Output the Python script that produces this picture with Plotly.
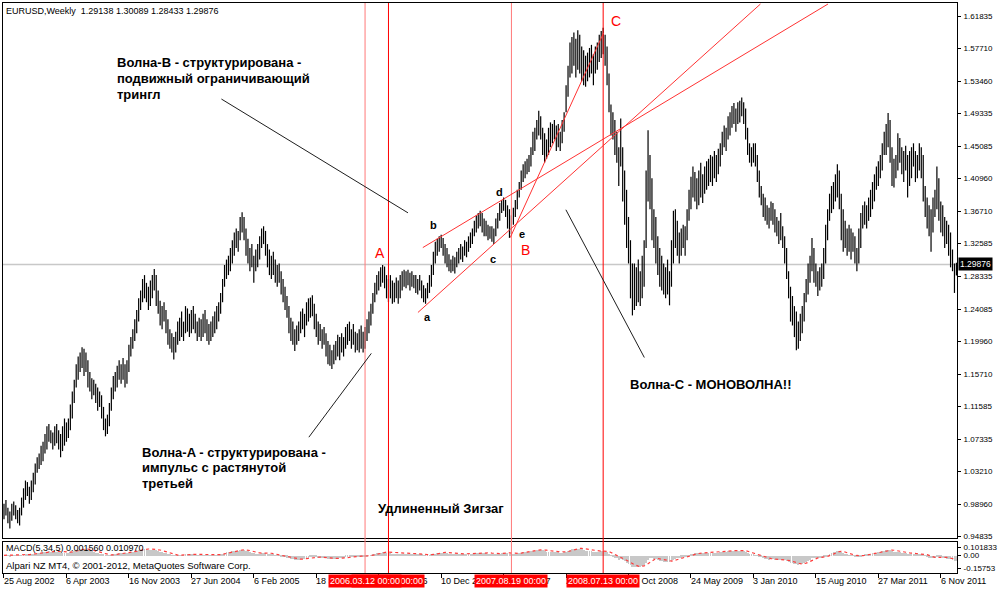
import plotly.graph_objects as go
import pandas as pd

# ---------------- data ----------------
header_text = "EURUSD,Weekly  1.29138 1.30089 1.28433 1.29876"
first_week = "2002-08-25"
last_close = 1.29876

# weekly bar lows / highs (bar 0 = week of 25 Aug 2002)
lows = [
    0.970, 0.975, 0.965, 0.958, 0.968, 0.975, 0.970, 0.965, 0.962, 0.975,
    0.985, 0.995, 1.000, 0.990, 0.995, 1.005, 1.015, 1.030, 1.035, 1.040,
    1.045, 1.055, 1.060, 1.070, 1.068, 1.060, 1.065, 1.068, 1.060, 1.050, 1.058, 1.065, 1.070,
    1.075, 1.085, 1.100, 1.120, 1.140, 1.150, 1.160, 1.165, 1.155, 1.160, 1.140,
    1.135, 1.125, 1.130, 1.120, 1.110, 1.115, 1.100, 1.085, 1.077, 1.080,
    1.090, 1.110, 1.125, 1.135, 1.140, 1.150, 1.145, 1.150, 1.140, 1.145, 1.160, 1.180, 1.190, 1.200, 1.210,
    1.225, 1.240, 1.250, 1.255, 1.250, 1.240, 1.245, 1.255, 1.265, 1.245,
    1.235, 1.220, 1.215, 1.225, 1.210, 1.195, 1.190, 1.185, 1.176, 1.185,
    1.195, 1.200, 1.205, 1.200, 1.210, 1.212, 1.205, 1.210, 1.215, 1.210, 1.200,
    1.205, 1.200, 1.205, 1.210, 1.200, 1.195, 1.200, 1.205, 1.210, 1.215, 1.225,
    1.235, 1.250, 1.270, 1.280, 1.285, 1.290, 1.300, 1.310, 1.320, 1.315, 1.330, 1.340,
    1.330, 1.310, 1.300, 1.290, 1.295, 1.275, 1.290, 1.295, 1.305, 1.320, 1.325, 1.310,
    1.295, 1.285, 1.280, 1.285, 1.275, 1.270, 1.275, 1.260, 1.250, 1.240, 1.230, 1.210, 1.200, 1.195, 1.187, 1.195,
    1.200, 1.210, 1.215, 1.205, 1.220, 1.225, 1.230, 1.232, 1.215,
    1.205, 1.195, 1.200, 1.190, 1.195, 1.180, 1.170, 1.168, 1.164, 1.170,
    1.175, 1.180, 1.175, 1.185, 1.180, 1.190, 1.195, 1.200, 1.190, 1.195, 1.185, 1.188, 1.185, 1.190, 1.185, 1.190,
    1.200, 1.210, 1.220, 1.235, 1.250, 1.260, 1.265, 1.270, 1.275, 1.268,
    1.255, 1.250, 1.255, 1.248, 1.250, 1.255, 1.248, 1.255, 1.265, 1.270, 1.268,
    1.272, 1.265, 1.270, 1.268, 1.262, 1.260, 1.265, 1.255, 1.250, 1.248, 1.255,
    1.262, 1.270, 1.285, 1.300, 1.310, 1.315, 1.320,
    1.310, 1.300, 1.295, 1.290, 1.288, 1.290, 1.287,
    1.295, 1.300, 1.305, 1.302, 1.310, 1.308, 1.315, 1.320, 1.325, 1.335, 1.340, 1.345, 1.348,
    1.340, 1.335, 1.335, 1.330, 1.332, 1.328, 1.325,
    1.335, 1.345, 1.355, 1.365, 1.368, 1.360, 1.345, 1.333, 1.338,
    1.350, 1.360, 1.370, 1.385, 1.395, 1.405, 1.410, 1.415, 1.418, 1.425, 1.440, 1.445, 1.460, 1.465,
    1.460, 1.440, 1.430, 1.435, 1.440, 1.450, 1.455, 1.460, 1.445, 1.450, 1.445, 1.455, 1.470,
    1.495, 1.515, 1.540, 1.545, 1.555, 1.540, 1.550, 1.545, 1.535, 1.530,
    1.528, 1.535, 1.540, 1.545, 1.530, 1.545, 1.550, 1.560, 1.565, 1.570,
    1.555, 1.530, 1.495, 1.465, 1.460, 1.440, 1.430, 1.400, 1.425, 1.380, 1.350, 1.320, 1.300, 1.255, 1.233,
    1.240, 1.245, 1.250, 1.245, 1.255, 1.270, 1.320, 1.380,
    1.370, 1.330, 1.320, 1.300, 1.285, 1.270, 1.265, 1.260, 1.255, 1.260, 1.246,
    1.270, 1.300, 1.320, 1.310, 1.300, 1.310, 1.320, 1.310, 1.330, 1.355, 1.370,
    1.385, 1.380, 1.370, 1.375, 1.385, 1.378, 1.390, 1.395,
    1.400, 1.405, 1.400, 1.410, 1.405, 1.415, 1.425, 1.440, 1.450, 1.445, 1.460, 1.465, 1.475, 1.480, 1.470, 1.480, 1.482, 1.490,
    1.480, 1.460, 1.440, 1.430, 1.425, 1.430, 1.425, 1.405, 1.385, 1.375,
    1.360, 1.355, 1.350, 1.345, 1.355, 1.350, 1.340, 1.335, 1.325, 1.330,
    1.320, 1.300, 1.280, 1.255, 1.225, 1.220, 1.205, 1.188, 1.190,
    1.200, 1.210, 1.225, 1.250, 1.260, 1.275, 1.290, 1.275, 1.270, 1.258,
    1.265, 1.270, 1.280, 1.300, 1.330, 1.355, 1.365, 1.370, 1.380, 1.385,
    1.370, 1.330, 1.315, 1.320, 1.310, 1.315, 1.305, 1.315, 1.300, 1.290, 1.300,
    1.320, 1.345, 1.350, 1.345, 1.355, 1.360, 1.370, 1.380, 1.395, 1.400, 1.410, 1.420, 1.440, 1.440, 1.450,
    1.430, 1.400, 1.398, 1.410, 1.420, 1.430, 1.415, 1.405, 1.420, 1.385, 1.400, 1.410, 1.425, 1.405, 1.410, 1.420, 1.410,
    1.380, 1.360, 1.345, 1.335, 1.315, 1.340, 1.360, 1.370, 1.355,
    1.340, 1.335, 1.320, 1.325, 1.310, 1.295, 1.290, 1.262, 1.28433,
]
highs = [
    0.990, 0.995, 0.985, 0.980, 0.990, 0.993, 0.988, 0.982, 0.985, 0.998,
    1.010, 1.020, 1.018, 1.012, 1.020, 1.030, 1.042, 1.050, 1.055, 1.065,
    1.070, 1.080, 1.090, 1.093, 1.085, 1.082, 1.090, 1.093, 1.085, 1.080, 1.090, 1.100, 1.095,
    1.100, 1.118, 1.135, 1.150, 1.170, 1.180, 1.185, 1.192, 1.190, 1.185, 1.175,
    1.160, 1.152, 1.150, 1.145, 1.140, 1.135, 1.130, 1.115, 1.100, 1.105,
    1.120, 1.140, 1.155, 1.160, 1.168, 1.175, 1.170, 1.178, 1.170, 1.175, 1.195, 1.205, 1.215, 1.228, 1.240,
    1.255, 1.265, 1.280, 1.285, 1.275, 1.270, 1.278, 1.285, 1.293, 1.285,
    1.265, 1.252, 1.245, 1.250, 1.240, 1.228, 1.215, 1.210, 1.205, 1.212,
    1.225, 1.230, 1.238, 1.225, 1.245, 1.242, 1.235, 1.240, 1.245, 1.235, 1.225,
    1.230, 1.228, 1.235, 1.240, 1.228, 1.222, 1.225, 1.232, 1.238, 1.245, 1.250,
    1.262, 1.280, 1.298, 1.305, 1.310, 1.320, 1.330, 1.340, 1.345, 1.342, 1.360, 1.366,
    1.360, 1.345, 1.332, 1.320, 1.325, 1.310, 1.318, 1.325, 1.335, 1.345, 1.348, 1.342,
    1.325, 1.318, 1.310, 1.315, 1.305, 1.298, 1.300, 1.290, 1.280, 1.270, 1.258, 1.245, 1.230, 1.225, 1.215, 1.220,
    1.225, 1.238, 1.242, 1.235, 1.250, 1.255, 1.256, 1.259, 1.248,
    1.235, 1.225, 1.222, 1.215, 1.218, 1.210, 1.200, 1.195, 1.188, 1.195,
    1.200, 1.208, 1.205, 1.210, 1.205, 1.218, 1.222, 1.225, 1.215, 1.222, 1.212, 1.210, 1.215, 1.220, 1.212, 1.218,
    1.228, 1.238, 1.248, 1.262, 1.275, 1.285, 1.290, 1.295, 1.298, 1.296,
    1.285, 1.280, 1.285, 1.278, 1.275, 1.282, 1.278, 1.285, 1.290, 1.292, 1.290,
    1.292, 1.288, 1.290, 1.285, 1.285, 1.280, 1.285, 1.278, 1.272, 1.268, 1.275,
    1.285, 1.298, 1.315, 1.328, 1.332, 1.335, 1.337,
    1.333, 1.325, 1.320, 1.312, 1.305, 1.310, 1.308,
    1.315, 1.320, 1.325, 1.322, 1.330, 1.328, 1.335, 1.340, 1.345, 1.355, 1.362, 1.365, 1.368,
    1.365, 1.358, 1.355, 1.350, 1.348, 1.348, 1.345,
    1.358, 1.365, 1.378, 1.382, 1.385, 1.382, 1.375, 1.370, 1.362,
    1.372, 1.382, 1.395, 1.405, 1.420, 1.428, 1.432, 1.435, 1.440, 1.450, 1.470, 1.475, 1.485, 1.497,
    1.490, 1.475, 1.468, 1.460, 1.475, 1.482, 1.480, 1.485, 1.478, 1.480, 1.470, 1.485, 1.495,
    1.530, 1.555, 1.585, 1.592, 1.598, 1.590, 1.601, 1.595, 1.580, 1.575,
    1.568, 1.572, 1.578, 1.582, 1.570, 1.580, 1.585, 1.595, 1.600, 1.604,
    1.595, 1.580, 1.545, 1.505, 1.495, 1.485, 1.470, 1.450, 1.487, 1.450, 1.420, 1.395, 1.360, 1.330, 1.300,
    1.300, 1.295, 1.305, 1.290, 1.310, 1.330, 1.420, 1.472,
    1.440, 1.410, 1.370, 1.360, 1.335, 1.320, 1.310, 1.300, 1.295, 1.305, 1.290,
    1.330, 1.368, 1.370, 1.355, 1.340, 1.345, 1.350, 1.348, 1.370, 1.395, 1.412,
    1.425, 1.418, 1.410, 1.420, 1.430, 1.415, 1.425, 1.432,
    1.435, 1.440, 1.438, 1.445, 1.440, 1.448, 1.455, 1.470, 1.478, 1.475, 1.490, 1.495, 1.503, 1.507, 1.500, 1.508, 1.510, 1.514,
    1.508, 1.500, 1.475, 1.455, 1.450, 1.455, 1.455, 1.440, 1.420, 1.400,
    1.390, 1.385, 1.375, 1.372, 1.380, 1.378, 1.370, 1.360, 1.355, 1.365,
    1.348, 1.335, 1.320, 1.290, 1.270, 1.258, 1.245, 1.238, 1.225,
    1.235, 1.245, 1.262, 1.280, 1.300, 1.310, 1.333, 1.320, 1.300, 1.290,
    1.295, 1.300, 1.320, 1.350, 1.370, 1.390, 1.400, 1.405, 1.415, 1.428,
    1.420, 1.390, 1.370, 1.355, 1.345, 1.350, 1.345, 1.340, 1.335, 1.320, 1.345,
    1.365, 1.375, 1.380, 1.375, 1.385, 1.395, 1.405, 1.415, 1.425, 1.432, 1.440, 1.455, 1.470, 1.480, 1.494,
    1.485, 1.450, 1.435, 1.440, 1.468, 1.462, 1.450, 1.445, 1.452, 1.440, 1.445, 1.450, 1.455, 1.445, 1.440, 1.455, 1.450,
    1.440, 1.400, 1.385, 1.375, 1.370, 1.385, 1.395, 1.425, 1.410,
    1.380, 1.375, 1.360, 1.355, 1.350, 1.340, 1.318, 1.300, 1.30089,
]

price_ticks = [1.61835, 1.57710, 1.53460, 1.49335, 1.45085, 1.40960, 1.36710, 1.32585,
               1.28335, 1.24085, 1.19960, 1.15710, 1.11585, 1.07335, 1.03210, 0.98960, 0.94835]
macd_ticks = [0.101833, 0.0, -0.15753]
macd_tick_text = ["0.101833", "0.00", "-0.15753"]
date_tick_bars = [0, 32, 64, 96, 128, 160, 192, 224, 256, 288, 320, 352, 384, 416, 448, 480]
date_tick_text = ["25 Aug 2002", "6 Apr 2003", "16 Nov 2003", "27 Jun 2004", "6 Feb 2005",
                  "18 Sep 2005", "30 Apr 2006", "10 Dec 2006", "22 Jul 2007", "2 Mar 2008",
                  "12 Oct 2008", "24 May 2009", "3 Jan 2010", "15 Aug 2010", "27 Mar 2011", "6 Nov 2011"]
# vertical marker lines: (bar, label, colour)
vlines = [(197, "2006.06.04 00:00", "rgb(255,0,0)"),
          (185, "2006.03.12 00:00", "rgb(255,120,120)"),
          (260, "2007.08.19 00:00", "rgb(255,120,120)"),
          (307, "2008.07.13 00:00", "rgb(255,0,0)")]
# red trend lines (bar, price) -> (bar, price)
trend_lines = [((214.6, 1.3205), (422.2, 1.6347)),
               ((212.1, 1.2368), (387.6, 1.6347)),
               ((259.4, 1.3335), (307.2, 1.5974))]
# black pointer lines
pointer_lines = [((111.4, 1.5121), (207.0, 1.3653)),
                 ((156.2, 1.0759), (188.2, 1.1840)),
                 ((287.9, 1.3693), (328.1, 1.1787))]

# ---------------- derived ----------------
n = len(lows)
idx = list(range(n))
weeks = pd.date_range(first_week, periods=n, freq="7D").strftime("%Y.%m.%d").tolist()
mid = pd.Series([(h + l) / 2 for h, l in zip(highs, lows)])
# MT4 MACD(5,34,5) indicator computed from the bars above
macd = (mid.ewm(span=5, adjust=False).mean() - mid.ewm(span=34, adjust=False).mean())
signal = macd.rolling(5, min_periods=1).mean()

# vertical bar segments (one trace, gaps between bars)
seg_x, seg_y = [], []
for i, (l, h) in enumerate(zip(lows, highs)):
    seg_x += [i, i, None]
    seg_y += [l, h, None]

W, H = 1000, 590
X0, X1, Y0, Y1 = 2, 963, 2, 573


def px(x):
    return (x - X0) / (X1 - X0)


def py(y):
    return (Y1 - y) / (Y1 - Y0)


FONT = "Liberation Sans, Arial, sans-serif"

fig = go.Figure()
fig.add_trace(go.Scatter(x=seg_x, y=seg_y, mode="lines", line=dict(color="black", width=1.2),
                         xaxis="x", yaxis="y", showlegend=False, hoverinfo="skip"))
fig.add_trace(go.Bar(x=idx, y=macd.tolist(), width=0.45,
                     marker=dict(color="rgb(200,200,200)", line=dict(width=0)), customdata=weeks,
                     xaxis="x2", yaxis="y2", showlegend=False))
fig.add_trace(go.Scatter(x=idx, y=signal.tolist(), mode="lines",
                         line=dict(color="rgb(255,60,60)", width=1.2, dash="dot"),
                         xaxis="x2", yaxis="y2", showlegend=False))

ppb = 1.966
xr0 = -1 / ppb
xr1 = xr0 + (X1 - X0) / ppb

axis_common = dict(showgrid=False, zeroline=False, showline=True, linecolor="black",
                   linewidth=1, mirror=True)
fig.update_layout(
    width=W, height=H, margin=dict(l=X0, r=W - X1, t=Y0, b=H - Y1),
    paper_bgcolor="white", plot_bgcolor="white", barmode="overlay", bargap=0,
    font=dict(family=FONT, size=8, color="black"), showlegend=False,
    xaxis=dict(domain=[0, 1], range=[xr0, xr1], anchor="y", showticklabels=False, ticks="",
               **axis_common),
    yaxis=dict(domain=[py(538), 1], range=[0.94579, 1.63599], side="right", anchor="x",
               tickvals=price_ticks, ticktext=[f"{v:.5f}" for v in price_ticks],
               ticks="outside", ticklen=3, tickcolor="black", ticklabelstandoff=1,
               tickfont=dict(size=8, family=FONT, color="black"), **axis_common),
    xaxis2=dict(domain=[0, 1], range=[xr0, xr1], matches="x", anchor="y2", showticklabels=False,
                ticks="outside", tickvals=date_tick_bars, ticklen=4, tickcolor="black",
                **axis_common),
    yaxis2=dict(domain=[0, py(541.5)], range=[-0.219, 0.170], side="right", anchor="x2",
                tickvals=macd_ticks, ticktext=macd_tick_text, ticks="outside", ticklen=3,
                tickcolor="black", ticklabelstandoff=1,
                tickfont=dict(size=8, family=FONT, color="black"), **axis_common),
)

shapes = []
shapes.append(dict(type="line", xref="paper", yref="y", x0=0, x1=1, y0=last_close, y1=last_close,
                   line=dict(color="rgb(200,200,200)", width=1.5), layer="below"))
for b, _, col in vlines:
    shapes.append(dict(type="line", xref="x", yref="paper", x0=b, x1=b, y0=0, y1=1,
                       line=dict(color=col, width=1)))
for (xa, ya), (xb, yb) in trend_lines:
    shapes.append(dict(type="line", xref="x", yref="y", x0=xa, y0=ya, x1=xb, y1=yb,
                       line=dict(color="rgb(255,50,50)", width=1)))
for (xa, ya), (xb, yb) in pointer_lines:
    shapes.append(dict(type="line", xref="x", yref="y", x0=xa, y0=ya, x1=xb, y1=yb,
                       line=dict(color="rgb(30,30,30)", width=1)))
fig.update_layout(shapes=shapes)

ann = []


def text(xp, yp, s, size=9, color="black", anchor="left", bold=False, **kw):
    ann.append(dict(xref="paper", yref="paper", x=px(xp), y=py(yp), text=(f"<b>{s}</b>" if bold else s),
                    showarrow=False, xanchor=anchor, yanchor="middle",
                    font=dict(size=size, color=color, family=FONT), **kw))


text(3, 10, header_text, size=9)
text(115, 62, "Волна-B - структурирована -", size=13, bold=True)
text(115, 78, "подвижный ограничивающий", size=13, bold=True)
text(115, 94, "трингл", size=13, bold=True)
text(140, 452, "Волна-A - структурирована -", size=13, bold=True)
text(140, 467, "импульс с растянутой", size=13, bold=True)
text(140, 483, "третьей", size=13, bold=True)
text(378, 508, "Удлиненный Зигзаг", size=13, bold=True)
text(632, 384, "Волна-C - МОНОВОЛНА!!", size=13, bold=True)
text(382, 252, "A", size=14, color="red", anchor="center")
text(528, 249, "B", size=14, color="red", anchor="center")
text(619, 20, "C", size=14, color="red", anchor="center")
for ch, (xx, yy) in zip("abcde", [(430, 317), (436, 224), (496, 258), (502, 191), (525, 233)]):
    text(xx, yy, ch, size=11, bold=True, anchor="center")
text(3, 548, "MACD(5,34,5) 0.001560 0.010970", size=9)
text(3, 565, "Alpari NZ MT4, © 2001-2012, MetaQuotes Software Corp.", size=9.5)

# date labels under the axis
for b, s in zip(date_tick_bars, date_tick_text):
    ann.append(dict(xref="x2", yref="paper", x=b, y=py(581.5), text=s, showarrow=False,
                    xanchor="left", yanchor="middle", xshift=-2,
                    font=dict(size=9, color="black", family=FONT)))
# red date boxes of the vertical lines
for b, s, _ in vlines:
    ann.append(dict(xref="x2", yref="paper", x=b, y=py(581.5), text=s, showarrow=False,
                    xanchor="center", yanchor="middle", bgcolor="red", borderpad=1,
                    font=dict(size=9, color="white", family=FONT)))
# current price box
ann.append(dict(xref="paper", yref="y", x=px(964), y=last_close, text=f"{last_close:.5f}",
                showarrow=False, xanchor="left", yanchor="middle", bgcolor="black", borderpad=1,
                font=dict(size=8.5, color="white", family=FONT)))
fig.update_layout(annotations=ann)

fig.write_html("out.html", config={"displayModeBar": False},
               post_script="document.body.style.margin='0';document.body.style.padding='0';"
                           "document.body.style.overflow='hidden';")
